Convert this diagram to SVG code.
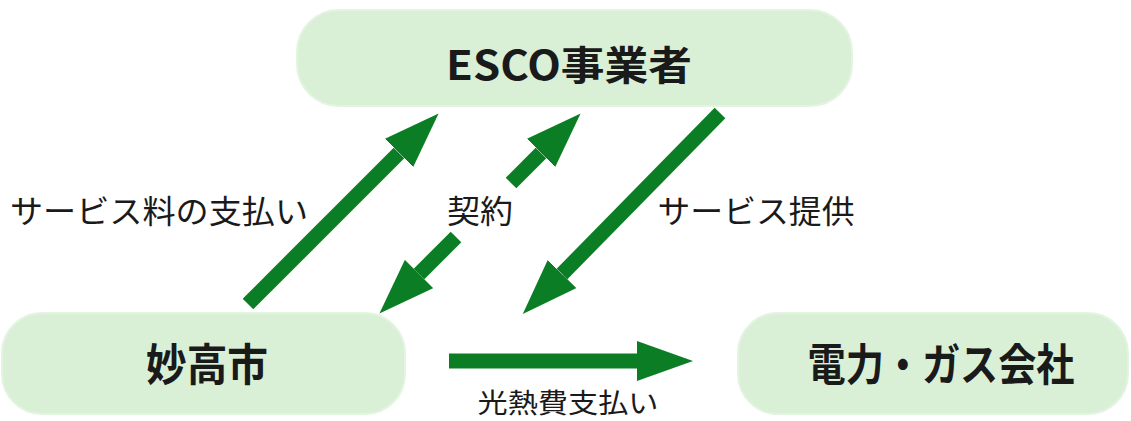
<svg xmlns="http://www.w3.org/2000/svg" width="1131" height="421" viewBox="0 0 1131 421">
<style>
.box{fill:#d9f0d7;stroke:#e3f4e1;stroke-width:2}
.node{font-family:"Noto Sans CJK JP","Liberation Sans",sans-serif;font-weight:bold;fill:#1a1a1a;text-anchor:middle}
.lbl{font-family:"Noto Sans CJK JP","Liberation Sans",sans-serif;fill:#1a1a1a;text-anchor:middle}
.arr{stroke:#0b7e25;stroke-width:15;fill:none;marker-end:url(#head)}
</style>
<defs>
<marker id="head" viewBox="0 -20 56 40" refX="0" refY="0" markerWidth="56" markerHeight="40" markerUnits="userSpaceOnUse" orient="auto">
<path d="M0,-20 L56,0 L0,20 Z" fill="#0b7e25"/>
</marker>
</defs>
<rect width="1131" height="421" fill="#ffffff"/>
<g id="esco">
<rect class="box" x="297" y="10" width="555" height="96" rx="42" ry="42"/>
<text class="node" x="569" y="80" font-size="40" textLength="246" lengthAdjust="spacingAndGlyphs">ESCO事業者</text>
</g>
<g id="myoko">
<rect class="box" x="2" y="313" width="403" height="101" rx="40" ry="40"/>
<text class="node" x="207" y="381" font-size="44" textLength="122" lengthAdjust="spacingAndGlyphs">妙高市</text>
</g>
<g id="power">
<rect class="box" x="738" y="313" width="390" height="101" rx="40" ry="40"/>
<text class="node" x="941" y="381" font-size="44" textLength="267" lengthAdjust="spacingAndGlyphs">電力・ガス会社</text>
</g>
<g id="connectors">
<line class="arr" x1="248" y1="304" x2="399" y2="153"/>
<line class="arr" x1="511" y1="183" x2="541" y2="153"/>
<line class="arr" x1="456" y1="237" x2="419" y2="274"/>
<line class="arr" x1="720" y1="113" x2="562" y2="274"/>
<line class="arr" x1="449" y1="361" x2="637" y2="361"/>
</g>
<g id="labels">
<text class="lbl" x="159" y="223" font-size="32" textLength="298" lengthAdjust="spacingAndGlyphs">サービス料の支払い</text>
<text class="lbl" x="480" y="223" font-size="32" textLength="66" lengthAdjust="spacingAndGlyphs">契約</text>
<text class="lbl" x="756" y="223" font-size="32" textLength="197" lengthAdjust="spacingAndGlyphs">サービス提供</text>
<text class="lbl" x="568" y="413" font-size="27" textLength="181" lengthAdjust="spacingAndGlyphs">光熱費支払い</text>
</g>
</svg>
